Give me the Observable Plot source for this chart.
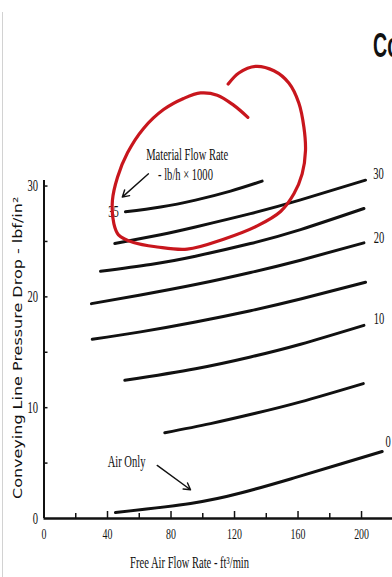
<!DOCTYPE html>
<html><head><meta charset="utf-8">
<script src="https://cdn.jsdelivr.net/npm/d3@7"></script>
<script src="https://cdn.jsdelivr.net/npm/@observablehq/plot@0.6"></script>
<style>
html,body{margin:0;padding:0;background:#fff;overflow:hidden;}
#wrap{position:relative;width:392px;height:577px;overflow:hidden;background:#fff;}
#chart{position:absolute;left:0;top:0;}
#edge{position:absolute;left:2px;top:12px;bottom:0;border-left:1px solid #d2d2d2;}
#title{position:absolute;left:373px;top:27px;font:bold 35px "Liberation Sans";line-height:1;transform:scaleX(0.56);transform-origin:left top;white-space:nowrap;color:#111;}
</style></head><body>
<div id="wrap"><div id="chart"></div><div id="edge"></div><div id="title">Co</div></div>
<script>
// Material flow rate (lb/h × 1000) for each curve
const flowRates = [35, 30, 25, 20, 15, 10, 5, 0];
// Free air flow rate (ft³/min) and conveying line pressure drop (lbf/in²)
const x35 = [51.3, 73.4, 95.4, 117.5, 137.4];
const y35 = [27.67, 28.1, 28.73, 29.54, 30.44];
const x30 = [44.6, 73.4, 95.4, 130.1, 161.6, 202.5];
const y30 = [24.81, 25.61, 26.31, 27.51, 28.75, 30.53];
const x25 = [35.6, 67.1, 95.4, 130.1, 161.6, 201.5];
const y25 = [22.31, 22.92, 23.67, 24.81, 26.07, 27.97];
const x20 = [29.9, 60.8, 95.4, 130.1, 161.6, 201.5];
const y20 = [19.39, 20.17, 21.11, 22.2, 23.31, 24.87];
const x15 = [30.4, 60.8, 95.4, 130.1, 161.6, 202.5];
const y15 = [16.17, 16.84, 17.73, 18.75, 19.8, 21.32];
const x10 = [50.9, 95.4, 130.1, 161.6, 201.5];
const y10 = [12.47, 13.52, 14.58, 15.73, 17.43];
const x5 = [76.1, 104.9, 133.2, 161.6, 201.1];
const y5 = [7.74, 8.56, 9.49, 10.52, 12.17];
const x0 = [45.0, 92.3, 123.8, 155.3, 186.8, 213.0];
const y0 = [0.54, 1.36, 2.3, 3.57, 4.92, 6.05];

// Curve labels
const curveLabels = ["35", "30", "20", "10", "0"];
const curveLabelX = [43.8, 210.7, 211, 211, 216.7];
const curveLabelY = [27.7, 31.1, 25.3, 18.0, 6.9];

// Annotations
const noteText = ["Material Flow Rate", "- lb/h × 1000", "Air Only"];
const noteX = [90.2, 89.1, 52.0];
const noteY = [32.8, 31.0, 5.15];
const arrowX1 = [65.8, 71.3], arrowY1 = [31.1, 4.79];
const arrowX2 = [49.3, 92.3], arrowY2 = [29.0, 2.59];

// Hand-drawn red loop (data coordinates)
const loopX = [128.4,119.4,109.1,98.6,87.9,75.3,62.7,52.6,46.3,43.1,44.0,46.9,56.4,71.3,90.2,113.1,134.3,149.0,157.4,162.6,164.7,163.7,160.5,154.2,144.8,133.2,122.7,116.0];
const loopY = [36.2,37.3,38.2,38.4,37.9,36.9,35.2,33.0,30.8,28.7,26.6,25.6,24.9,24.5,24.3,25.2,26.4,27.7,29.3,31.1,33.2,35.3,37.5,39.3,40.4,40.8,40.2,39.2];

// Axes
const xTickLabels = [0, 40, 80, 120, 160, 200];
const xMajorTicks = [40, 80, 120, 160, 200];
const xMinorTicks = [20, 60, 100, 140, 180];
const yTickLabels = [0, 10, 20, 30];
const yTicks = [5, 10, 15, 20, 25, 30];
const xLabel = "Free Air Flow Rate - ft³/min";
const yLabel = "Conveying Line Pressure Drop - lbf/in²";

const curveX = [x35, x30, x25, x20, x15, x10, x5, x0];
const curveY = [y35, y30, y25, y20, y15, y10, y5, y0];
const curves = flowRates.flatMap((f, i) => curveX[i].map((x, j) => ({flow: f, x, y: curveY[i][j]})));

const W = 392, H = 577, mL = 43.5, mR = 0, mT = 180, mB = 59;
const fh = H - mT - mB, fw = W - mL - mR;
const ink = "#111";

const plot = Plot.plot({
  width: W, height: H,
  marginLeft: mL, marginRight: mR, marginTop: mT, marginBottom: mB,
  x: {domain: [0, 219.5]},
  y: {domain: [0, 30.5]},
  style: {fontFamily: "Liberation Serif", background: "transparent", color: ink, overflow: "visible"},
  marks: [
    Plot.axisX({ticks: xTickLabels, tickSize: 0, tickPadding: 10, fontSize: 15, label: null}),
    Plot.axisY({ticks: yTickLabels, tickSize: 0, tickPadding: 6, fontSize: 16, label: null}),
    Plot.tickX(xMajorTicks, {x: d => d, insetTop: fh - 7, stroke: ink, strokeWidth: 1.5}),
    Plot.tickX(xMinorTicks, {x: d => d, insetTop: fh - 5, stroke: ink, strokeWidth: 1.5}),
    Plot.tickY(yTicks, {y: d => d, insetRight: fw - 4, stroke: ink, strokeWidth: 1.5}),
    Plot.ruleY([0], {stroke: ink, strokeWidth: 2.5}),
    Plot.ruleX([0], {stroke: ink, strokeWidth: 2}),
    Plot.line(curves, {x: "x", y: "y", z: "flow", curve: "natural", stroke: ink, strokeWidth: 3, strokeLinecap: "round"}),
    Plot.text(curveLabels, {x: (d, i) => curveLabelX[i], y: (d, i) => curveLabelY[i], text: d => d, fontSize: 16, fill: ink}),
    Plot.text(noteText, {x: (d, i) => noteX[i], y: (d, i) => noteY[i], text: d => d, fontSize: 16, fill: ink}),
    Plot.arrow(arrowX1, {x1: (d, i) => arrowX1[i], y1: (d, i) => arrowY1[i], x2: (d, i) => arrowX2[i], y2: (d, i) => arrowY2[i], stroke: ink, strokeWidth: 1.4, headLength: 8}),
    Plot.text([xLabel], {x: 91.7, frameAnchor: "bottom", dy: 49, text: d => d, fontSize: 16, fill: ink}),
    Plot.text([yLabel], {y: 15.4, frameAnchor: "left", textAnchor: "middle", dx: -26, rotate: -90, text: d => d, fontSize: 16, fontFamily: "DejaVu Sans", fill: ink}),
    Plot.line(loopX, {x: (d, i) => loopX[i], y: (d, i) => loopY[i], curve: "catmull-rom", stroke: "#c8161d", strokeWidth: 3.2, strokeLinecap: "round"})
  ]
});

plot.querySelectorAll("text").forEach(t => {
  const tr = t.getAttribute("transform");
  if (!tr) return;
  if (tr.includes("rotate")) t.setAttribute("transform", tr + " scale(1,0.77)");
  else t.setAttribute("transform", tr + " scale(0.66,1)");
});

document.getElementById("chart").appendChild(plot);
</script>
</body></html>
